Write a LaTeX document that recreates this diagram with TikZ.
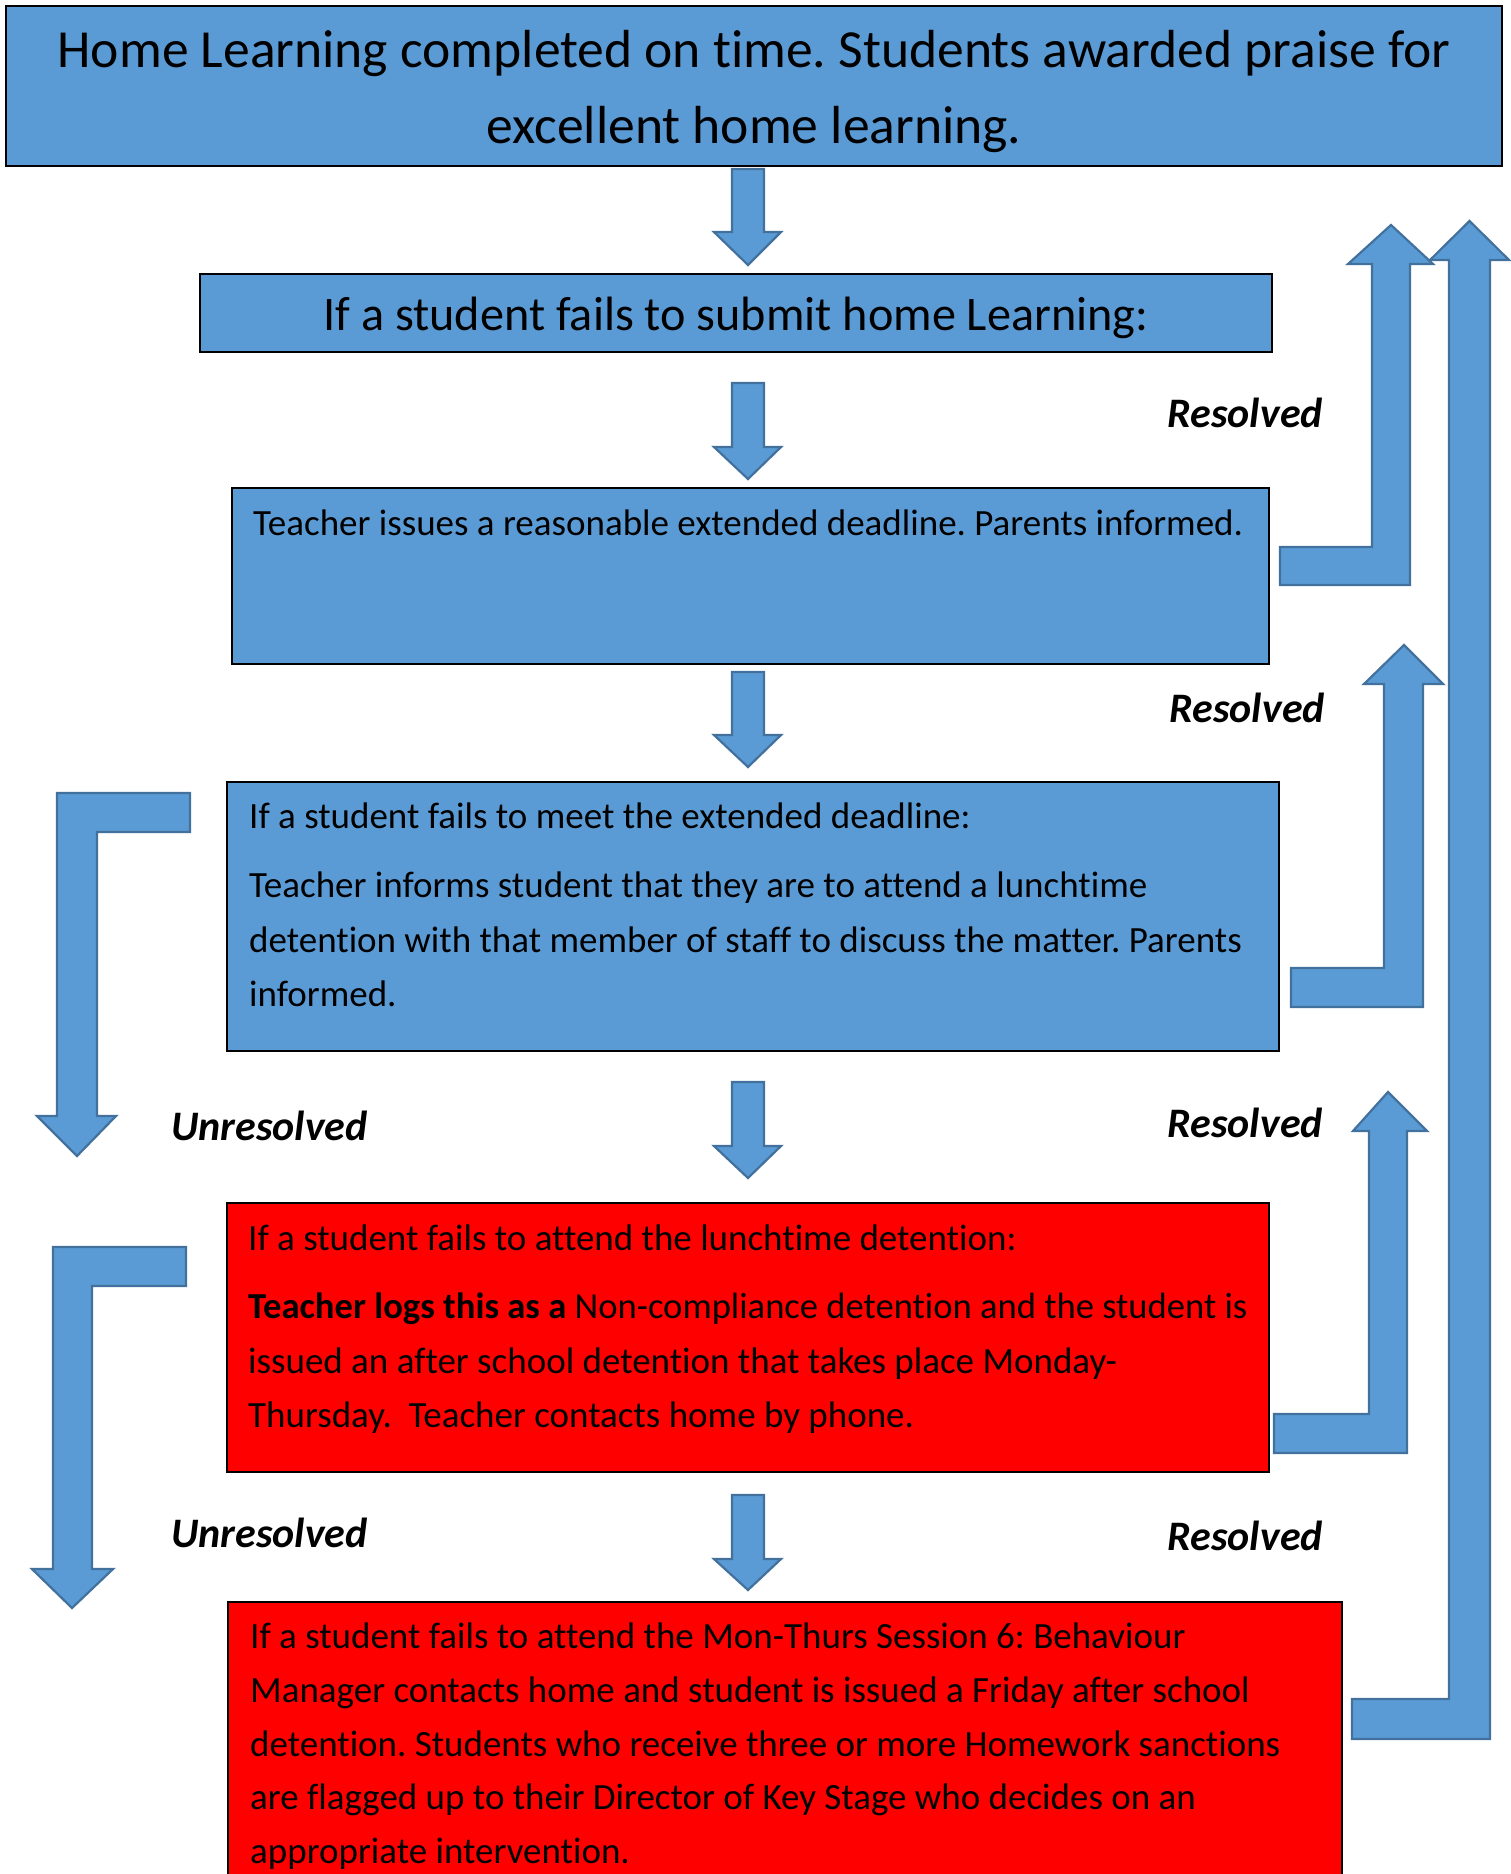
\documentclass[tikz,border=0pt]{standalone}
\usepackage{fontspec}
\setmainfont{Carlito}[Ligatures=NoCommon]
\frenchspacing
\definecolor{boxblue}{HTML}{5B9BD5}
\definecolor{arrowedge}{HTML}{41719C}
\definecolor{boxred}{HTML}{FF0000}
\newcommand\cdarrow[3]{\draw[blockarrow] (732,#1)--(764,#1)--(764,#2)--(781,#2)--(748,#3)--(714,#2)--(732,#2)--cycle;}
\begin{document}
\begin{tikzpicture}[x=1pt,y=-1pt,
  boxbase/.style={draw=black,line width=2.5pt,inner sep=0pt,outer sep=0pt,anchor=north west},
  bluebox/.style={boxbase,fill=boxblue},
  redbox/.style={boxbase,fill=boxred},
  blockarrow/.style={draw=arrowedge,line width=2.2pt,fill=boxblue,line join=miter},
  body/.style={inner sep=0pt,anchor=base west,font=\fontsize{37}{44}\selectfont},
  title/.style={inner sep=0pt,anchor=base,font=\fontsize{53.6}{64}\selectfont},
  sub/.style={inner sep=0pt,anchor=base,font=\fontsize{48.2}{56}\selectfont},
  reslabel/.style={inner sep=0pt,anchor=base east,font=\fontsize{42}{50}\selectfont\bfseries\itshape},
  unreslabel/.style={inner sep=0pt,anchor=base west,font=\fontsize{42}{50}\selectfont\bfseries\itshape}]
\useasboundingbox (0,0) rectangle (1510,1874);
\fill[white] (0,0) rectangle (1510,1874);

% boxes
\node[bluebox,minimum width=1496pt,minimum height=160pt] (b1) at (6,6) {};
\node[bluebox,minimum width=1072pt,minimum height=78pt] (b2) at (200,274) {};
\node[bluebox,minimum width=1037pt,minimum height=176pt] (b3) at (232,488) {};
\node[bluebox,minimum width=1052pt,minimum height=269pt] (b4) at (227,782) {};
\node[redbox,minimum width=1042pt,minimum height=269pt] (b5) at (227,1203) {};
\node[redbox,minimum width=1114pt,minimum height=320pt] (b6) at (228,1602) {};

% texts
\node[title] (t1a) at (754,67) {Home Learning completed on time. Students awarded praise for};
\node[title] (t1b) at (754,143) {excellent home learning.};
\node[sub] (t2) at (736,330) {If a student fails to submit home Learning:};
\node[body] (t3) at (253,535) {Teacher issues a reasonable extended deadline. Parents informed.};
\node[body] (t4a) at (249,828) {If a student fails to meet the extended deadline:};
\node[body] (t4b) at (249,897) {Teacher informs student that they are to attend a lunchtime};
\node[body] (t4c) at (249,952) {detention with that member of staff to discuss the matter. Parents};
\node[body] (t4d) at (249,1006) {informed.};
\node[body] (t5a) at (248,1250) {If a student fails to attend the lunchtime detention:};
\node[body,font=\fontsize{36.6}{44}\selectfont] (t5b) at (248,1318) {\textbf{Teacher logs this as a} Non-compliance detention and the student is};
\node[body] (t5c) at (248,1373) {issued an after school detention that takes place Monday-};
\node[body] (t5d) at (248,1427) {Thursday.\ \ Teacher contacts home by phone.};
\node[body] (t6a) at (250,1648) {If a student fails to attend the Mon-Thurs Session 6: Behaviour};
\node[body] (t6b) at (250,1702) {Manager contacts home and student is issued a Friday after school};
\node[body] (t6c) at (250,1756) {detention. Students who receive three or more Homework sanctions};
\node[body] (t6d) at (250,1809) {are flagged up to their Director of Key Stage who decides on an};
\node[body] (t6e) at (250,1863) {appropriate intervention.};

% labels
\node[reslabel] (r1) at (1323,427) {Resolved};
\node[reslabel] (r2) at (1325,722) {Resolved};
\node[reslabel] (r3) at (1323,1137) {Resolved};
\node[reslabel] (r4) at (1323,1550) {Resolved};
\node[unreslabel] (u1) at (171,1140) {Unresolved};
\node[unreslabel] (u2) at (171,1547) {Unresolved};

% central down arrows
\cdarrow{169}{232}{265}
\cdarrow{383}{447}{479}
\cdarrow{672}{735}{767}
\cdarrow{1082}{1146}{1178}
\cdarrow{1495}{1559}{1590}

% right bent up arrows
\draw[blockarrow] (1280,547)--(1372,547)--(1372,264)--(1348,264)--(1391,225)--(1433,264)--(1410,264)--(1410,585)--(1280,585)--cycle;
\draw[blockarrow] (1291,968)--(1384,968)--(1384,684)--(1364,684)--(1404,645)--(1443,684)--(1423,684)--(1423,1007)--(1291,1007)--cycle;
\draw[blockarrow] (1274,1414)--(1369,1414)--(1369,1131)--(1353,1131)--(1388,1092)--(1427,1131)--(1407,1131)--(1407,1453)--(1274,1453)--cycle;
\draw[blockarrow] (1352,1699)--(1449,1699)--(1449,260)--(1430,260)--(1469.5,221)--(1509,260)--(1490,260)--(1490,1739)--(1352,1739)--cycle;

% left bent down arrows
\draw[blockarrow] (190,793)--(57,793)--(57,1116)--(37,1116)--(77,1156)--(116,1116)--(97,1116)--(97,832)--(190,832)--cycle;
\draw[blockarrow] (186,1247)--(53,1247)--(53,1569)--(32,1569)--(72,1608)--(113,1569)--(92,1569)--(92,1286)--(186,1286)--cycle;
\end{tikzpicture}
\end{document}
